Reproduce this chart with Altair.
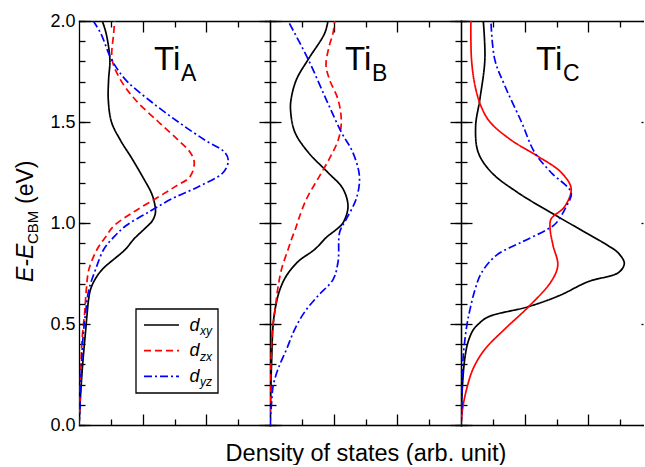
import altair as alt
import pandas as pd

FONT = "Liberation Sans"

# ---------------- data ----------------
# Ti_A
A_xy_E = [0.00, 0.15, 0.31, 0.47, 0.56, 0.62, 0.67, 0.72, 0.77, 0.87, 0.92, 0.97, 1.01, 1.05, 1.10, 1.15, 1.22, 1.32, 1.41, 1.50, 1.61, 1.71, 1.81, 1.94, 2.00]
A_xy_D = [0.00, 0.05, 0.12, 0.21, 0.26, 0.30, 0.36, 0.50, 0.73, 1.46, 1.72, 2.05, 2.30, 2.40, 2.37, 2.27, 2.03, 1.66, 1.30, 1.02, 0.92, 0.93, 0.97, 0.85, 0.73]
A_zx_E = [0.00, 0.10, 0.23, 0.43, 0.56, 0.67, 0.77, 0.87, 0.93, 0.985, 1.05, 1.12, 1.18, 1.23, 1.30, 1.35, 1.41, 1.50, 1.61, 1.71, 1.81, 1.94, 2.00]
A_zx_D = [0.00, 0.03, 0.05, 0.10, 0.18, 0.23, 0.31, 0.57, 0.83, 1.09, 1.67, 2.40, 3.02, 3.49, 3.62, 3.49, 3.12, 2.50, 1.77, 1.30, 1.04, 1.09, 1.12]
A_yz_E = [0.00, 0.05, 0.23, 0.43, 0.56, 0.67, 0.77, 0.87, 0.93, 0.985, 1.05, 1.12, 1.18, 1.25, 1.31, 1.35, 1.41, 1.50, 1.61, 1.71, 1.81, 1.94, 2.00]
A_yz_D = [0.00, 0.02, 0.06, 0.125, 0.21, 0.31, 0.52, 0.78, 1.09, 1.46, 2.14, 2.92, 3.75, 4.53, 4.69, 4.58, 3.96, 3.12, 2.19, 1.46, 1.02, 0.68, 0.45]
# Ti_B
B_xy_E = [0.00, 0.15, 0.31, 0.50, 0.59, 0.67, 0.74, 0.81, 0.87, 0.93, 0.97, 1.00, 1.08, 1.17, 1.25, 1.35, 1.45, 1.55, 1.61, 1.71, 1.81, 1.94, 2.00]
B_xy_D = [0.00, 0.02, 0.05, 0.10, 0.18, 0.31, 0.52, 0.89, 1.41, 1.78, 2.10, 2.29, 2.45, 2.29, 1.82, 1.20, 0.78, 0.65, 0.66, 0.83, 1.20, 1.72, 1.82]
B_zx_E = [0.00, 0.18, 0.31, 0.475, 0.57, 0.67, 0.77, 0.87, 0.93, 0.97, 1.02, 1.12, 1.22, 1.32, 1.41, 1.50, 1.61, 1.71, 1.78, 1.87, 1.94, 2.00]
B_zx_D = [0.00, 0.01, 0.03, 0.08, 0.16, 0.24, 0.36, 0.57, 0.70, 0.80, 0.90, 1.15, 1.51, 1.87, 2.14, 2.24, 2.14, 1.87, 1.76, 1.85, 1.98, 2.03]
B_yz_E = [0.00, 0.03, 0.11, 0.195, 0.28, 0.375, 0.475, 0.56, 0.64, 0.72, 0.81, 0.955, 1.02, 1.12, 1.23, 1.35, 1.45, 1.61, 1.81, 2.00]
B_yz_D = [0.00, 0.01, 0.05, 0.10, 0.26, 0.52, 0.78, 1.09, 1.51, 1.98, 2.14, 2.19, 2.40, 2.71, 2.81, 2.60, 2.24, 1.77, 1.20, 0.57]
# Ti_C
C_xy_E = [0.00, 0.18, 0.33, 0.41, 0.47, 0.50, 0.535, 0.585, 0.64, 0.71, 0.755, 0.80, 0.85, 0.89, 0.97, 1.06, 1.15, 1.25, 1.35, 1.48, 1.61, 1.81, 2.00]
C_xy_D = [0.00, 0.04, 0.12, 0.22, 0.38, 0.55, 0.85, 2.10, 3.08, 4.00, 4.95, 5.13, 4.95, 4.60, 3.72, 2.73, 1.79, 0.96, 0.54, 0.46, 0.59, 0.75, 0.70]
C_zx_E = [0.00, 0.08, 0.18, 0.28, 0.375, 0.475, 0.585, 0.71, 0.79, 0.89, 0.97, 1.02, 1.08, 1.17, 1.25, 1.33, 1.41, 1.50, 1.58, 1.68, 1.81, 2.00]
C_zx_D = [0.00, 0.05, 0.18, 0.385, 0.75, 1.375, 2.12, 2.83, 3.04, 2.89, 2.80, 2.83, 3.25, 3.46, 3.15, 2.42, 1.58, 0.91, 0.625, 0.44, 0.33, 0.31]
C_yz_E = [0.00, 0.05, 0.23, 0.34, 0.49, 0.57, 0.67, 0.755, 0.84, 0.905, 0.97, 1.00, 1.08, 1.15, 1.25, 1.35, 1.50, 1.68, 1.81, 2.00]
C_yz_D = [0.00, 0.02, 0.04, 0.07, 0.18, 0.28, 0.44, 0.65, 1.11, 1.90, 2.73, 2.99, 3.30, 3.46, 2.83, 2.31, 1.90, 1.375, 1.06, 0.94]

PANELS = ["A", "B", "C"]
ORBITALS = ["dxy", "dzx", "dyz"]
ORB_SUB = ["xy", "zx", "yz"]
ORB_COLORS = ["#000000", "#ff0000", "#0000ff"]
STYLE_NAMES = ["solid", "dash", "dashdot"]
STYLE_DASHES = [[1, 0], [7, 4], [8, 3, 2, 3]]
PANEL_STYLES = {"A": ["solid", "dash", "dashdot"],
                "B": ["solid", "dash", "dashdot"],
                "C": ["solid", "solid", "dashdot"]}
CURVES = {"A": [(A_xy_E, A_xy_D), (A_zx_E, A_zx_D), (A_yz_E, A_yz_D)],
          "B": [(B_xy_E, B_xy_D), (B_zx_E, B_zx_D), (B_yz_E, B_yz_D)],
          "C": [(C_xy_E, C_xy_D), (C_zx_E, C_zx_D), (C_yz_E, C_yz_D)]}

Y_MAJOR = [0.0, 0.5, 1.0, 1.5, 2.0]
Y_MINOR = [round(0.1 * i, 1) for i in range(21)]
X_MAJOR = [2, 4]
X_MINOR = [1, 3, 5]
X_TITLE = "Density of states (arb. unit)"

# panel widths: the last panel is cut by the right edge of the figure
FULL_W = 191
WIDTHS = [191, 191, 182]
H = 404
MAJ, MIN = 11, 6
YS = alt.Scale(domain=[0, 2], nice=False, zero=False)


def panel_df(key):
    rows = []
    for orb, style, (E, D) in zip(ORBITALS, PANEL_STYLES[key], CURVES[key]):
        for e, d in zip(E, D):
            rows.append({"E": e, "dos": d, "orb": orb, "style": style})
    return pd.DataFrame(rows)


def ax(orient, values, size, labels=False, title=None, **kw):
    return alt.Axis(orient=orient, values=values, tickSize=size, offset=-size,
                    domain=False, grid=False, ticks=True, tickColor="black",
                    tickWidth=1.3, labels=labels, title=title, **kw)


def frame(orient):
    return alt.Axis(orient=orient, domain=True, domainColor="black", domainWidth=1.3,
                    domainCap="square", ticks=False, labels=False, grid=False, title=None)


one = pd.DataFrame({"k": [0]})


def txt(text, x, y, size, style="normal", angle=0):
    return alt.Chart(one).mark_text(
        text=text, font=FONT, fontSize=size, fontStyle=style, align="left",
        baseline="alphabetic", angle=angle, color="black"
    ).encode(x=alt.value(x), y=alt.value(y))


def make_panel(key, idx):
    df = panel_df(key)
    w = WIDTHS[idx]
    xs = alt.Scale(domain=[0, 6 * w / FULL_W], nice=False, zero=False)
    last = idx == len(PANELS) - 1

    def X(a):
        return alt.X("dos:Q", scale=xs, axis=a)

    def Y(a):
        return alt.Y("E:Q", scale=YS, axis=a)

    if idx == 0:
        left_major = ax("left", Y_MAJOR, MAJ, labels=True, format=".1f",
                        labelFont=FONT, labelFontSize=18, labelColor="black",
                        labelPadding=4, labelFlush=False, labelOverlap=False)
    else:
        left_major = ax("left", Y_MAJOR, MAJ)
    if idx == 1:
        bottom_major = ax("bottom", X_MAJOR, MAJ, title=X_TITLE, titleFont=FONT,
                          titleFontSize=23.5, titleFontWeight="normal",
                          titleColor="black", titleY=46, titleBaseline="alphabetic")
    else:
        bottom_major = ax("bottom", X_MAJOR, MAJ)

    lines = alt.Chart(df).mark_line(
        interpolate="catmull-rom", strokeWidth=1.7, clip=True
    ).encode(
        x=X(bottom_major), y=Y(left_major),
        color=alt.Color("orb:N", scale=alt.Scale(domain=ORBITALS, range=ORB_COLORS), legend=None),
        strokeDash=alt.StrokeDash("style:N", scale=alt.Scale(domain=STYLE_NAMES, range=STYLE_DASHES), legend=None),
        order=alt.Order("E:Q"),
    )
    # only the tips of the right-hand major ticks of the last panel are inside the figure
    right_major = ax("right", Y_MAJOR, MAJ - (FULL_W - w)) if last else ax("right", Y_MAJOR, MAJ)
    right_minor = None if last else ax("right", Y_MINOR, MIN)
    right_frame = None if last else frame("right")

    h1 = alt.Chart(df).mark_point(opacity=0).encode(
        x=X(ax("bottom", X_MINOR, MIN)), y=Y(ax("left", Y_MINOR, MIN)))
    h2 = alt.Chart(df).mark_point(opacity=0).encode(
        x=X(ax("top", X_MAJOR, MAJ)), y=Y(right_major))
    h3 = alt.Chart(df).mark_point(opacity=0).encode(
        x=X(ax("top", X_MINOR, MIN)), y=Y(right_minor))
    h4 = alt.Chart(df).mark_point(opacity=0).encode(
        x=X(frame("bottom")), y=Y(frame("left")))
    h5 = alt.Chart(df).mark_point(opacity=0).encode(
        x=X(frame("top")), y=Y(right_frame))

    layers = [lines, h1, h2, h3, h4, h5,
              txt("Ti", 75, 49, 33),
              txt(key, 102, 60, 23)]

    if idx == 0:
        # legend box
        layers.append(
            alt.Chart(one).mark_rect(fill="white", stroke="black", strokeWidth=1.3).encode(
                x=alt.value(57), x2=alt.value(139), y=alt.value(288), y2=alt.value(372)))
        for i, (orb, sub, col, sty) in enumerate(zip(ORBITALS, ORB_SUB, ORB_COLORS, PANEL_STYLES["A"])):
            yy = 304 + 25.7 * i
            layers.append(
                alt.Chart(one).mark_rule(color=col, strokeWidth=1.7,
                                         strokeDash=STYLE_DASHES[STYLE_NAMES.index(sty)]).encode(
                    x=alt.value(65), x2=alt.value(100), y=alt.value(yy)))
            layers.append(txt("d", 110.5, yy + 5.5, 18, style="italic"))
            layers.append(txt(sub, 121, yy + 10, 12, style="italic"))
        # y title  E-E_CBM (eV)
        layers.append(txt("E-E", -46, 261, 23, style="italic", angle=270))
        layers.append(txt("CBM", -41, 223, 15, angle=270))
        layers.append(txt("(eV)", -46, 183, 23, angle=270))

    return alt.layer(*layers).resolve_axis(x="independent", y="independent").properties(width=w, height=H)


chart = alt.hconcat(
    *[make_panel(k, i) for i, k in enumerate(PANELS)], spacing=0, bounds="flush"
).properties(
    padding={"left": 15, "top": 12, "right": 0, "bottom": 0}, background="white"
).configure_view(strokeWidth=0)

chart.save("out.html", embed_options={"renderer": "svg", "actions": False})
